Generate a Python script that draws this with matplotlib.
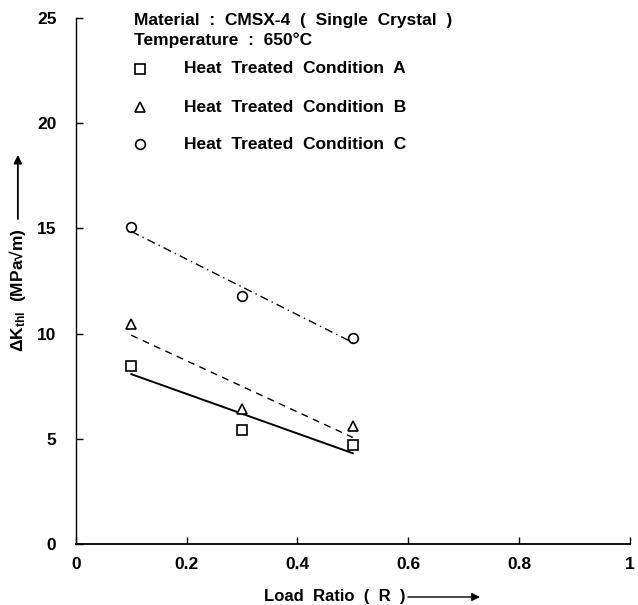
import numpy as np
import matplotlib.pyplot as plt

plt.rcParams['font.family'] = ['Liberation Sans', 'DejaVu Sans']
plt.rcParams['font.weight'] = 'bold'
plt.rcParams['mathtext.fontset'] = 'custom'
plt.rcParams['mathtext.rm'] = 'Liberation Sans:bold'
plt.rcParams['mathtext.it'] = 'Liberation Sans:bold'
plt.rcParams['mathtext.bf'] = 'Liberation Sans:bold'

# load ratio R and threshold dK for the three heat treatments
load_ratio = [0.1, 0.3, 0.5]
dk_a = [8.46, 5.42, 4.70]
dk_b = [10.46, 6.42, 5.60]
dk_c = [15.07, 11.79, 9.79]

labels = ['Heat  Treated  Condition  A',
          'Heat  Treated  Condition  B',
          'Heat  Treated  Condition  C']
markers = ['s', '^', 'o']
styles = ['-', (0, (5, 4)), (0, (6, 3, 1, 3))]

x_ticks = [0, 0.2, 0.4, 0.6, 0.8, 1]
x_ticklabels = ['0', '0.2', '0.4', '0.6', '0.8', '1']
y_ticks = [0, 5, 10, 15, 20, 25]

fig = plt.figure(figsize=(6.38, 6.05), dpi=100)
ax = fig.add_axes([0.119, 0.1008, 0.868, 0.8694])

x = np.array(load_ratio)
for dk, m, ls in zip([dk_a, dk_b, dk_c], markers, styles):
    ax.plot(x, dk, linestyle='none', marker=m, markersize=7,
            markerfacecolor='white', markeredgecolor='black', markeredgewidth=1.2)
    # least squares fit through each set
    k, b = np.polyfit(x, dk, 1)
    ax.plot(x[[0, -1]], k * x[[0, -1]] + b, color='black',
            linestyle=ls, linewidth=1.4 if ls == '-' else 1.0)

ax.set_xlim(0, 1)
ax.set_ylim(0, 25)
ax.set_xticks(x_ticks)
ax.set_xticklabels(x_ticklabels)
ax.set_yticks(y_ticks)
ax.spines['top'].set_visible(False)
ax.spines['right'].set_visible(False)
ax.spines['left'].set_linewidth(1.0)
ax.spines['bottom'].set_linewidth(1.3)
ax.tick_params(direction='in', length=5, width=1.0, labelsize=12.5)
ax.tick_params(axis='x', pad=9)
ax.tick_params(axis='y', pad=14)
for lab in ax.get_xticklabels() + ax.get_yticklabels():
    lab.set_fontweight('bold')

# header and legend text
ax.text(0.105, 24.9, 'Material  :  CMSX-4  (  Single  Crystal  )',
        fontsize=12.5, fontweight='bold', va='center')
ax.text(0.105, 23.95, 'Temperature  :  650°C',
        fontsize=12.5, fontweight='bold', va='center')
leg_y = [22.58, 20.77, 19.01]
for m, yy, lab in zip(markers, leg_y, labels):
    ax.plot([0.115], [yy], linestyle='none', marker=m, markersize=7,
            markerfacecolor='white', markeredgecolor='black', markeredgewidth=1.2,
            clip_on=False)
    ax.text(0.195, yy, lab, fontsize=12.5, fontweight='bold', va='center')

# axis titles with arrows
fig.text(0.028, 1 - 290 / 605, r'$\Delta$K$_{\mathrm{thl}}$  (MPa√m)',
         rotation=90, fontsize=12.5, fontweight='bold', ha='center', va='center')
ax.annotate('', xy=(0.028, 1 - 155 / 605), xytext=(0.028, 1 - 219 / 605),
            xycoords='figure fraction', textcoords='figure fraction',
            arrowprops=dict(arrowstyle='-|>', color='black', lw=1.3,
                            mutation_scale=12, shrinkA=0, shrinkB=0))
fig.text(406 / 638, 1 - 597 / 605, 'Load  Ratio  (  R  )', fontsize=12,
         fontweight='bold', ha='right', va='center')
ax.annotate('', xy=(480 / 638, 1 - 597 / 605), xytext=(408 / 638, 1 - 597 / 605),
            xycoords='figure fraction', textcoords='figure fraction',
            arrowprops=dict(arrowstyle='-|>', color='black', lw=1.0,
                            mutation_scale=12, shrinkA=0, shrinkB=0))

fig.savefig('out.png', dpi=100)
